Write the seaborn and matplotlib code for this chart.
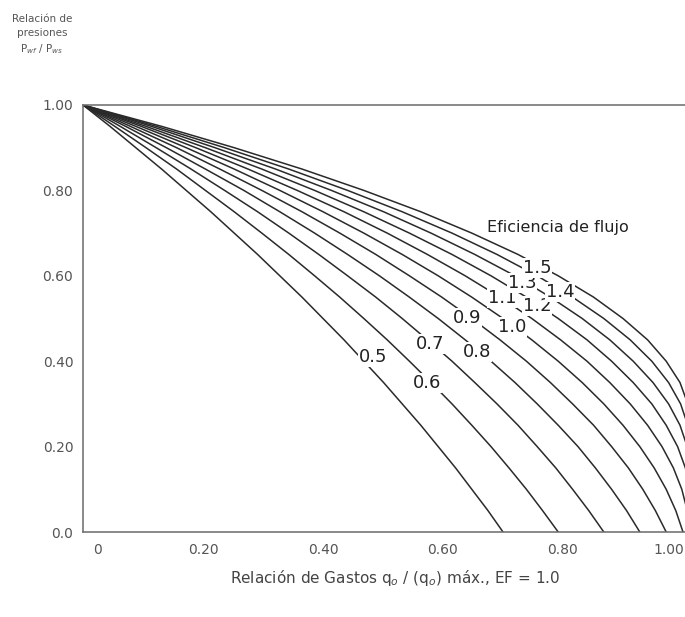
import numpy as np
import pandas as pd
import matplotlib
matplotlib.use("Agg")
import matplotlib.pyplot as plt
import matplotlib.transforms as mtransforms
import seaborn as sns

# ---- data (pwf/pws vs qo/(qo)max, EF=1.0) ----
ef_values = ["0.5", "0.6", "0.7", "0.8", "0.9", "1.0", "1.1", "1.2", "1.3", "1.4", "1.5"]

y_full = [1.0, 0.95, 0.9, 0.85, 0.8, 0.75, 0.7, 0.65, 0.6, 0.55, 0.5,
          0.45, 0.4, 0.35, 0.3, 0.25, 0.2, 0.15, 0.1, 0.05, 0.0]

x_ef05 = [0.000, 0.045, 0.088, 0.131, 0.172, 0.213, 0.252, 0.291, 0.328, 0.365, 0.400,
          0.435, 0.468, 0.501, 0.532, 0.563, 0.592, 0.621, 0.648, 0.675, 0.700]
x_ef06 = [0.000, 0.053, 0.105, 0.156, 0.204, 0.252, 0.298, 0.343, 0.386, 0.428, 0.468,
          0.507, 0.544, 0.580, 0.615, 0.648, 0.680, 0.710, 0.739, 0.766, 0.792]
x_ef07 = [0.000, 0.062, 0.122, 0.180, 0.236, 0.291, 0.343, 0.393, 0.441, 0.488, 0.532,
          0.574, 0.615, 0.653, 0.690, 0.725, 0.757, 0.788, 0.816, 0.843, 0.868]
x_ef08 = [0.000, 0.071, 0.139, 0.204, 0.268, 0.328, 0.386, 0.441, 0.494, 0.544, 0.592,
          0.637, 0.680, 0.720, 0.757, 0.792, 0.825, 0.854, 0.881, 0.906, 0.928]
x_ef09 = [0.000, 0.079, 0.156, 0.228, 0.298, 0.365, 0.428, 0.488, 0.544, 0.598, 0.648,
          0.695, 0.739, 0.779, 0.816, 0.851, 0.881, 0.909, 0.933, 0.954, 0.972]
x_ef10 = [0.000, 0.088, 0.172, 0.252, 0.328, 0.400, 0.468, 0.532, 0.592, 0.648, 0.700,
          0.748, 0.792, 0.832, 0.868, 0.900, 0.928, 0.952, 0.972, 0.988, 1.000]

y_ef11 = [1.0, 0.95, 0.9, 0.85, 0.8, 0.75, 0.7, 0.65, 0.6, 0.55, 0.5,
          0.45, 0.4, 0.35, 0.3, 0.25, 0.2, 0.15, 0.1, 0.045]
x_ef11 = [0.000, 0.097, 0.188, 0.275, 0.357, 0.435, 0.507, 0.574, 0.637, 0.695, 0.748,
          0.796, 0.840, 0.878, 0.912, 0.941, 0.965, 0.984, 0.998, 1.008]
y_ef12 = [1.0, 0.95, 0.9, 0.85, 0.8, 0.75, 0.7, 0.65, 0.6, 0.55, 0.5,
          0.45, 0.4, 0.35, 0.3, 0.25, 0.2, 0.15, 0.125]
x_ef12 = [0.000, 0.105, 0.204, 0.298, 0.386, 0.468, 0.544, 0.615, 0.680, 0.739, 0.792,
          0.840, 0.881, 0.917, 0.948, 0.972, 0.991, 1.004, 1.008]
y_ef13 = [1.0, 0.95, 0.9, 0.85, 0.8, 0.75, 0.7, 0.65, 0.6, 0.55, 0.5,
          0.45, 0.4, 0.35, 0.3, 0.25, 0.2]
x_ef13 = [0.000, 0.114, 0.220, 0.321, 0.414, 0.501, 0.580, 0.653, 0.720, 0.779, 0.832,
          0.878, 0.917, 0.950, 0.976, 0.995, 1.007]
y_ef14 = [1.0, 0.95, 0.9, 0.85, 0.8, 0.75, 0.7, 0.65, 0.6, 0.55, 0.5,
          0.45, 0.4, 0.35, 0.3, 0.25]
x_ef14 = [0.000, 0.122, 0.236, 0.343, 0.441, 0.532, 0.615, 0.690, 0.757, 0.816, 0.868,
          0.912, 0.948, 0.976, 0.996, 1.008]
y_ef15 = [1.0, 0.95, 0.9, 0.85, 0.8, 0.75, 0.7, 0.65, 0.6, 0.55, 0.5,
          0.45, 0.4, 0.35, 0.3]
x_ef15 = [0.000, 0.131, 0.252, 0.365, 0.468, 0.563, 0.648, 0.725, 0.792, 0.851, 0.900,
          0.941, 0.972, 0.995, 1.008]

x_ticks = [0.0, 0.2, 0.4, 0.6, 0.8, 1.0]
x_ticklabels = ["0", "0.20", "0.40", "0.60", "0.80", "1.00"]
y_ticks = [0.0, 0.2, 0.4, 0.6, 0.8, 1.0]
y_ticklabels = ["0.0", "0.20", "0.40", "0.60", "0.80", "1.00"]

curves = [
    (x_ef05, y_full), (x_ef06, y_full), (x_ef07, y_full), (x_ef08, y_full),
    (x_ef09, y_full), (x_ef10, y_full), (x_ef11, y_ef11), (x_ef12, y_ef12),
    (x_ef13, y_ef13), (x_ef14, y_ef14), (x_ef15, y_ef15),
]
rows = []
for ef, (xs, ys) in zip(ef_values, curves):
    for i, (xv, yv) in enumerate(zip(xs, ys)):
        rows.append({"EF": ef, "q": xv, "p": yv, "i": i})
df = pd.DataFrame(rows)

# label placement (layout, in data units)
label_pos = {
    "0.5": (0.483, 0.410), "0.6": (0.573, 0.349), "0.7": (0.578, 0.440),
    "0.8": (0.657, 0.422), "0.9": (0.640, 0.501), "1.0": (0.715, 0.480),
    "1.1": (0.698, 0.548), "1.2": (0.757, 0.529), "1.3": (0.732, 0.583),
    "1.4": (0.795, 0.562), "1.5": (0.757, 0.618),
}

sns.set_style("white")
plt.rcParams["font.family"] = ["DejaVu Sans"]

fig = plt.figure(figsize=(6.85, 6.17), dpi=100)
W, H = 685, 617
ax = fig.add_axes([83 / W, (H - 532) / H, (W - 83) / W, 427 / H])

sns.lineplot(data=df, x="q", y="p", hue="EF", units="EF", estimator=None,
             sort=False, palette=["#2a2a2a"] * len(ef_values), linewidth=1.1,
             legend=False, ax=ax)

ax.set_xlim(0, (W - 83) / 600)
ax.set_ylim(0, 1.0)

for sp in ["left", "bottom", "top"]:
    ax.spines[sp].set_color("#6a6a6a")
    ax.spines[sp].set_linewidth(1.1)
ax.spines["right"].set_visible(False)

ax.set_xticks(x_ticks)
ax.set_xticklabels(x_ticklabels)
ax.set_yticks(y_ticks)
ax.set_yticklabels(y_ticklabels)
ax.tick_params(axis="x", direction="in", length=11, width=1.1, color="#6a6a6a",
               labelsize=10, labelcolor="#555555", pad=8, top=False)
ax.tick_params(axis="y", direction="in", length=7, width=1.1, color="#6a6a6a",
               labelsize=10, labelcolor="#555555", pad=7, right=False)
xt = ax.xaxis.get_major_ticks()
xt[0].tick1line.set_visible(False)
xt[-1].tick1line.set_visible(False)
yt = ax.yaxis.get_major_ticks()
yt[0].tick1line.set_visible(False)
yt[-1].tick1line.set_visible(False)
off0 = mtransforms.ScaledTranslation(14 / 100, 0, fig.dpi_scale_trans)
xt[0].label1.set_transform(xt[0].label1.get_transform() + off0)
off1 = mtransforms.ScaledTranslation(-14 / 100, 0, fig.dpi_scale_trans)
xt[-1].label1.set_transform(xt[-1].label1.get_transform() + off1)

ax.set_xlabel("")
ax.set_ylabel("")

for ef in ef_values:
    lx, ly = label_pos[ef]
    ax.text(lx, ly, ef, fontsize=13, color="#222222", ha="center", va="center",
            bbox=dict(facecolor="white", edgecolor="none", pad=0.6), zorder=5)

ax.text(0.792, 0.714, "Eficiencia de flujo", fontsize=11.5, color="#222222",
        ha="center", va="center", zorder=5)

fig.text(42 / W, 1 - 35 / H, "Relación de\npresiones\nP$_{wf}$ / P$_{ws}$",
         fontsize=7.5, color="#555555", ha="center", va="center",
         linespacing=1.5)
fig.text(395 / W, 1 - 578 / H,
         "Relación de Gastos q$_o$ / (q$_o$) máx., EF = 1.0",
         fontsize=11, color="#444444", ha="center", va="center")

fig.savefig("out.png", dpi=100)
